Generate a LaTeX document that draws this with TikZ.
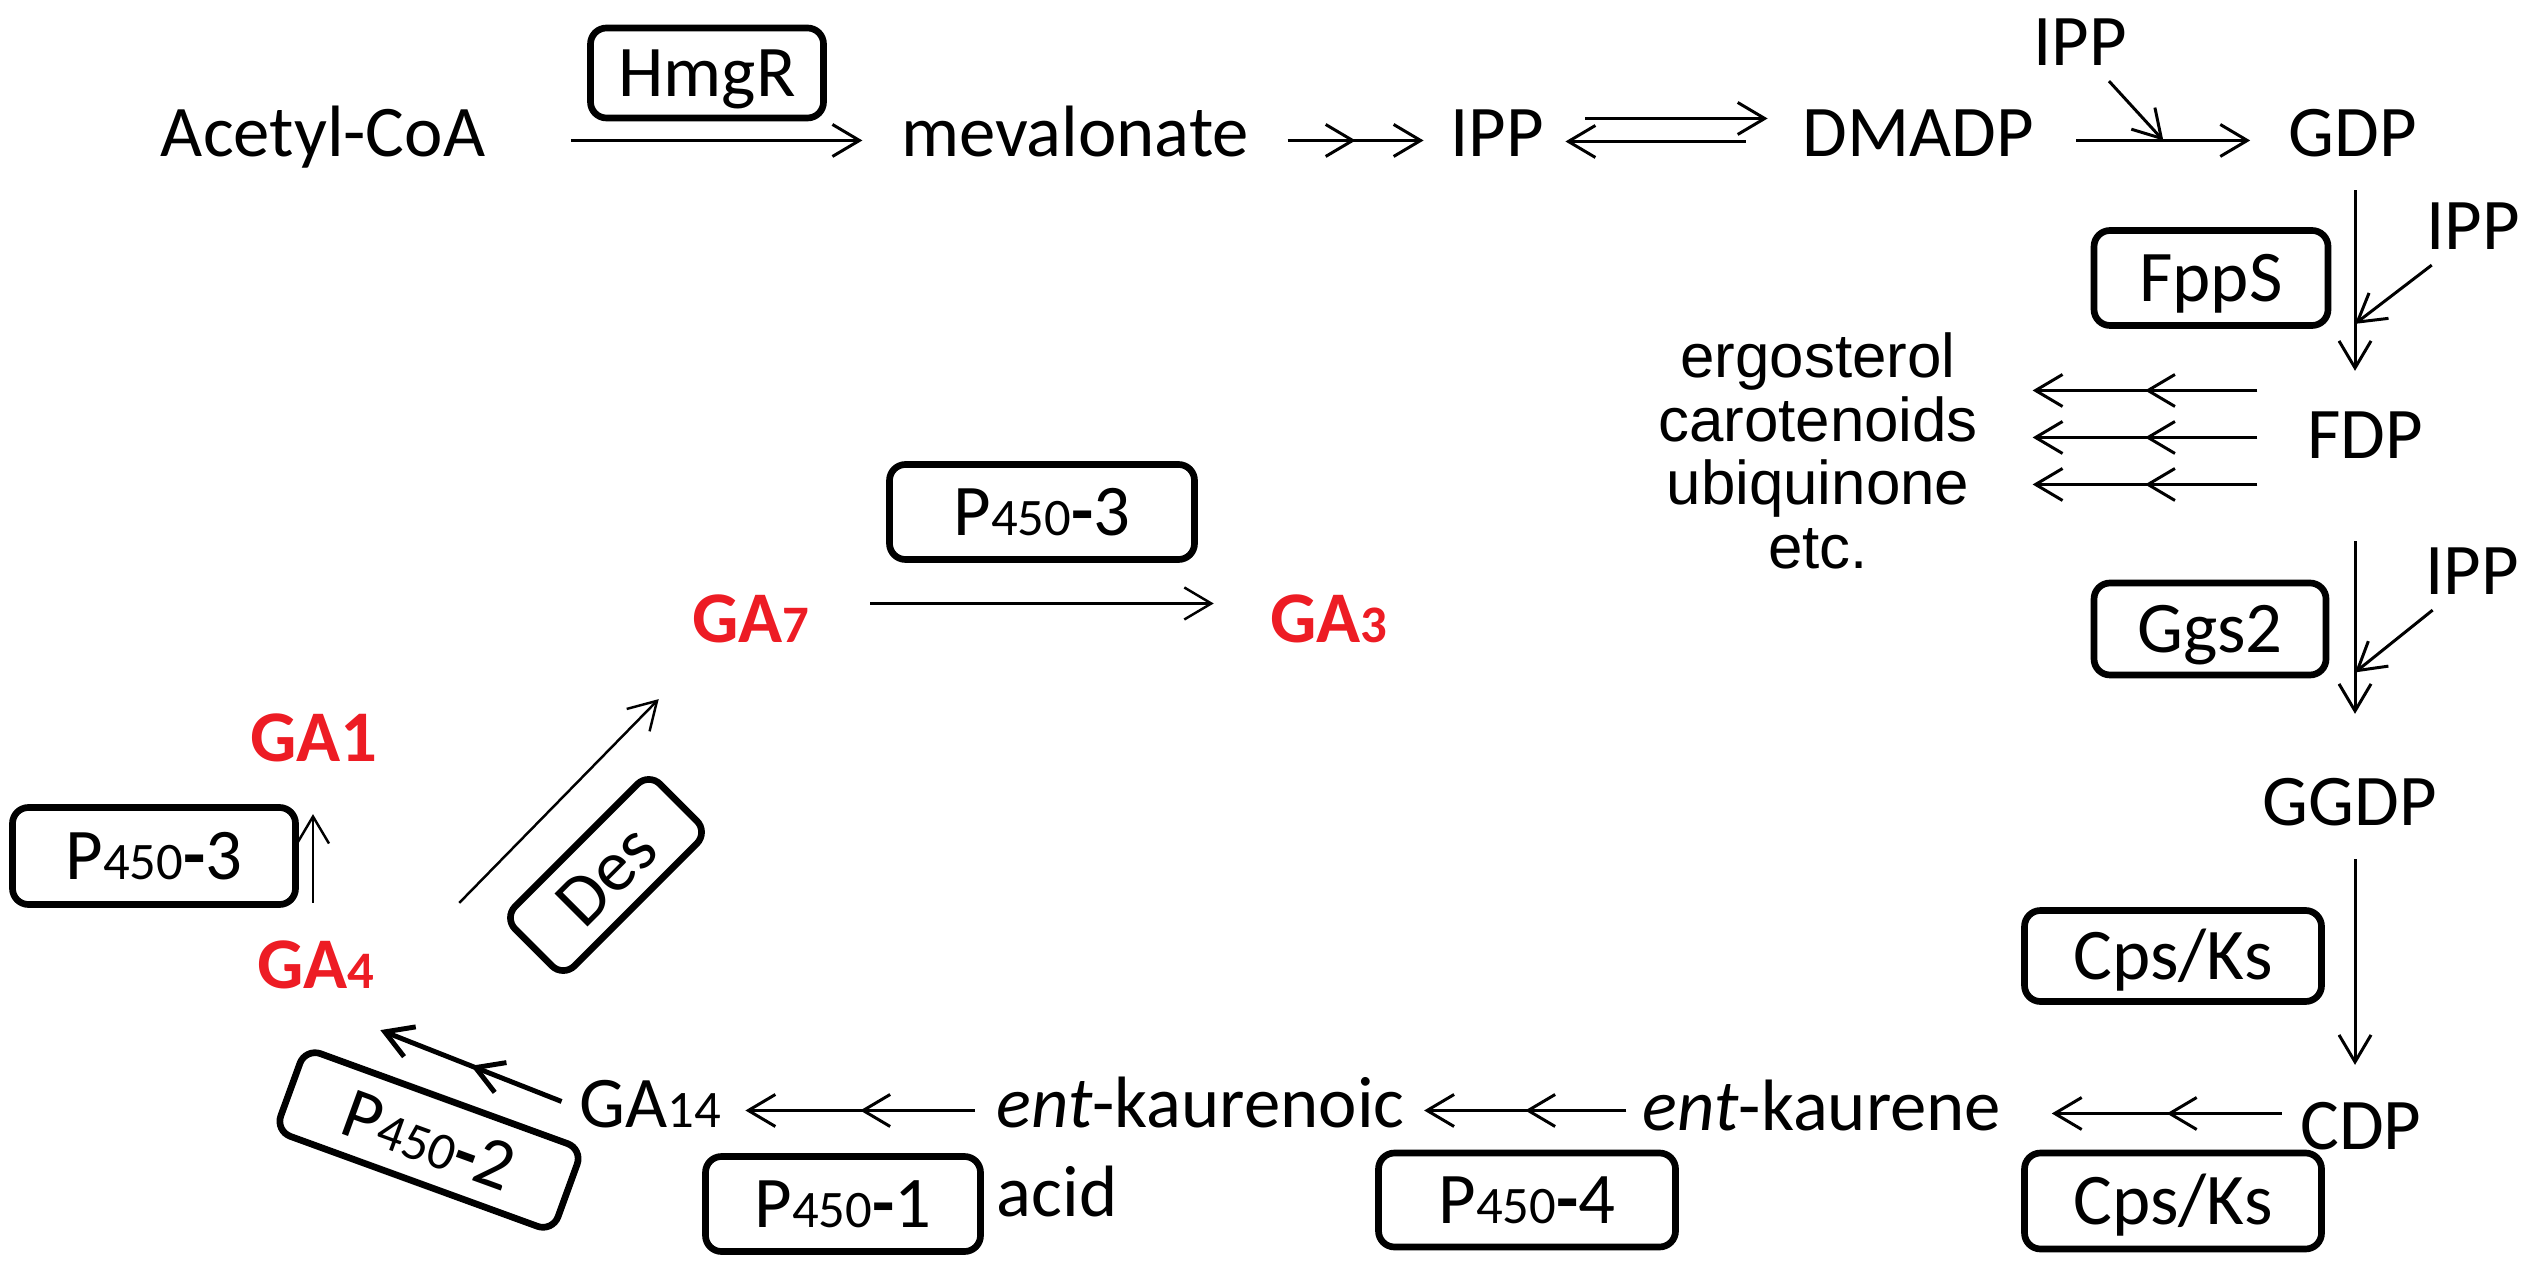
\documentclass[tikz,border=0pt]{standalone}
\usepackage{fontspec}
\setmainfont{Carlito}
\newfontfamily\arialfont{Liberation Sans}
\usetikzlibrary{arrows.meta,decorations.markings}
\definecolor{gared}{RGB}{237,28,36}
\newcommand{\sm}[1]{{\fontsize{15}{15}\selectfont #1}}
\newcommand{\pfs}[1]{P\sm{450}{\bfseries -}#1}
\tikzset{
  met/.style={inner sep=0pt, text height=13.5pt, text depth=4.1pt, anchor=base},
  ga/.style={met, text=gared, font=\fontsize{20.7}{24}\selectfont\bfseries},
  enz/.style={draw, line width=1.9pt, rounded corners=1.6mm, inner sep=0pt,
    text height=13.5pt, text depth=0pt, minimum height=9.3mm},
  rxn/.style={->, line width=0.85pt},
  rxntwo/.style={rxn, postaction={decorate},
    decoration={markings, mark=at position 0.5 with {\arrow{>}}}},
}
\begin{document}
\begin{tikzpicture}[x=0.1mm,y=-0.1mm,font=\fontsize{20.7}{24}\selectfont,
  >={Straight Barb[length=2.7mm,width=3.2mm]}]
\useasboundingbox (0,0) rectangle (2533,1270);
%
\node[met] (acetyl) at (323,157) {Acetyl-CoA};
\node[met] (meva) at (1075,157) {mevalonate};
\node[met] (ippm) at (1497,157) {IPP};
\node[met] (dmadp) at (1918,157) {DMADP};
\node[met] (gdp) at (2353,157) {GDP};
\node[met] (ippa) at (2080,66) {IPP};
\node[enz,minimum width=23.3mm,minimum height=9mm] (hmgr) at (707,73) {HmgR};
\draw[rxn] ([shift={(85,0)}]acetyl.east) -- ([shift={(-38,0)}]meva.west);
\draw[rxntwo] ([shift={(38,0)}]meva.east) -- ([shift={(-26,0)}]ippm.west);
\draw[rxn] ([shift={(41,-22)}]ippm.east) -- ([shift={(-34,-22)}]dmadp.west);
\draw[rxn] ([shift={(-56,1)}]dmadp.west) -- ([shift={(21,1)}]ippm.east);
\draw[rxn] ([shift={(42,0)}]dmadp.east) -- coordinate (m1) ([shift={(-38,0)}]gdp.west);
\draw[rxn] (ippa) -- (m1);
%
\node[met] (fdp) at (2365,459) {FDP};
\node[met] (ippb) at (2473,250) {IPP};
\node[enz,minimum width=23.4mm,minimum height=9.5mm] (fpps) at (2211,278) {FppS};
\draw[rxn] ([shift={(2,18)}]gdp.south) -- coordinate[pos=.74] (m2)
  ([shift={(2,-40)}]gdp.south |- fdp.north);
\draw[rxn] (ippb) -- (m2);
\node[inner sep=0pt,align=center,font=\arialfont\fontsize{17.6}{18.1}\selectfont]
  (prod) at (1818,451) {ergosterol\\carotenoids\\ubiquinone\\etc.};
\foreach \dy in {-52,-5,42}
  \draw[rxntwo] ([shift={(-49,\dy)}]fdp.west) -- ([shift={(54,\dy)}]fdp.west -| prod.east);
%
\node[met] (ggdp) at (2350,826) {GGDP};
\node[met] (ippc) at (2472,595) {IPP};
\node[enz,minimum width=23.2mm,minimum height=9.2mm] (ggs) at (2210,629) {Ggs2};
\draw[rxn] ([shift={(2,67)}]gdp.south |- fdp.south) -- coordinate[pos=.76] (m3)
  ([shift={(2,-64)}]gdp.south |- ggdp.north);
\draw[rxn] (ippc) -- (m3);
\node[met] (cdp) at (2361,1149) {CDP};
\node[enz,minimum width=29.7mm,minimum height=9.1mm] (cps1) at (2173,956) {Cps/Ks};
\draw[rxn] ([shift={(2,18)}]gdp.south |- ggdp.south) -- ([shift={(2,-36)}]gdp.south |- cdp.north);
%
\node[met] (kaurene) at (1822,1130) {\textit{ent}-kaurene};
\node[enz,minimum width=29.7mm,minimum height=9.6mm] (cps2) at (2173,1201) {Cps/Ks};
\draw[rxntwo] ([shift={(-18,0)}]kaurene.east -| cdp.west) -- ([shift={(50,0)}]kaurene.east);
\node[met,anchor=base west] (kaurenoic) at (996,1127) {\textit{ent}-kaurenoic};
\node[inner sep=0pt,anchor=base west] (acid) at (996,1216) {acid};
\node[enz,minimum width=29.7mm,minimum height=9.4mm] (p4) at (1527,1200) {\pfs{4}};
\draw[rxntwo] ([shift={(-16,0)}]kaurenoic.east -| kaurene.west) -- ([shift={(19,0)}]kaurenoic.east);
\node[met] (ga14) at (650,1127) {GA\sm{14}};
\node[enz,minimum width=27.5mm,minimum height=9.5mm] (p1) at (843,1204) {\pfs{1}};
\draw[rxntwo] ([shift={(-21,0)}]kaurenoic.west) -- ([shift={(24,0)}]ga14.east);
%
\node[ga] (ga4) at (316,988) {GA\sm{4}};
\node[ga] (ga1) at (314,762) {GA1};
\node[ga] (ga7) at (751,643) {GA\sm{7}};
\node[ga] (ga3) at (1329,643) {GA\sm{3}};
\node[enz,minimum width=29.5mm,minimum height=8.8mm,rotate=-20] (p2) at (429,1140) {\pfs{2}};
\node[enz,minimum width=28.3mm,minimum height=9.7mm] (p3a) at (154,856) {\pfs{3}};
\node[enz,minimum width=20.5mm,minimum height=8.4mm,rotate=45] (des) at (606,875) {Des};
\node[enz,minimum width=30.5mm,minimum height=9.5mm] (p3b) at (1042,512) {\pfs{3}};
\draw[rxntwo,line width=1.4pt] ([shift={(-17,-9)}]ga14.west) -- ([shift={(5,27)}]ga4.south east);
\draw[rxn,line width=0.7pt] ([shift={(-3,-37)}]ga4.north) -- ([shift={(-3,37)}]ga4.north |- ga1.south);
\draw[rxn,line width=0.7pt] ([shift={(84,-37)}]ga4.north east) -- ([shift={(-33,41)}]ga7.south west);
\draw[rxn,line width=0.7pt] ([shift={(60,-23)}]ga7.east) -- ([shift={(-56,-23)}]ga3.west);
%
\end{tikzpicture}
\end{document}
